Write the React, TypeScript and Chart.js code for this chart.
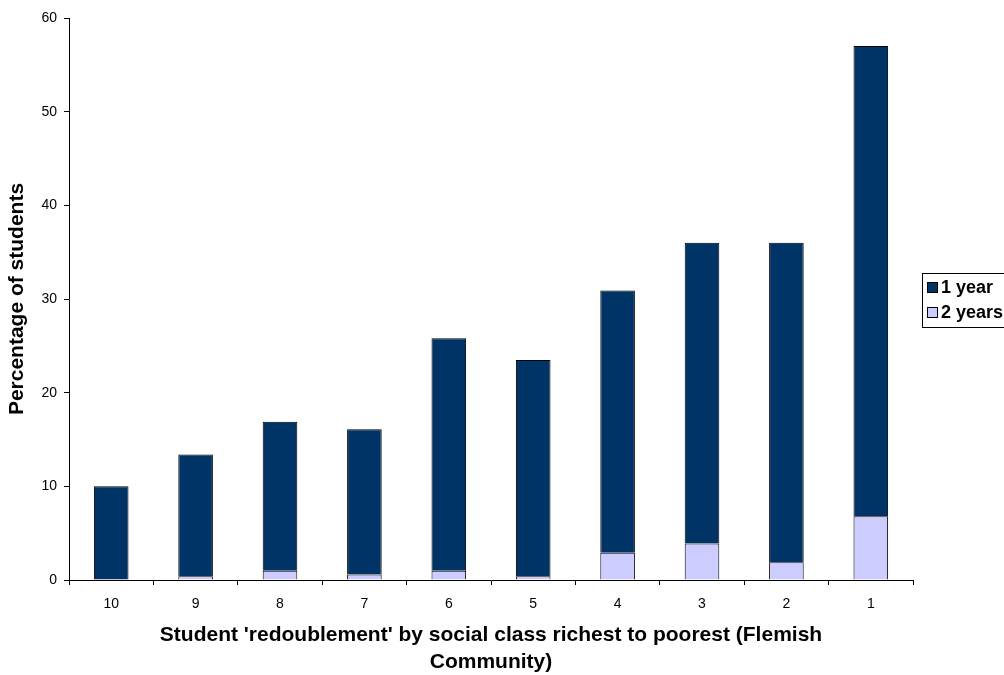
import React, { useEffect, useRef } from "react";
import { Chart, registerables } from "chart.js";

Chart.register(...registerables);

const categories = ["10", "9", "8", "7", "6", "5", "4", "3", "2", "1"];
const twoYears = [0, 0.4, 1.0, 0.6, 1.0, 0.4, 2.9, 3.9, 1.9, 6.8];
const oneYear = [10.0, 13.0, 15.9, 15.5, 24.8, 23.1, 28.0, 32.1, 34.1, 50.2];
const yTicks = [0, 10, 20, 30, 40, 50, 60];

const FONT = "'Liberation Sans', Arial, sans-serif";

const boxLegend = {
  id: "boxLegend",
  afterDraw(chart: any) {
    const ctx = chart.ctx;
    const x = 922, y = 273, w = 100, h = 54;
    ctx.save();
    ctx.fillStyle = "#ffffff";
    ctx.fillRect(x, y, w, h);
    ctx.strokeStyle = "#000000";
    ctx.lineWidth = 1;
    ctx.strokeRect(x + 0.5, y + 0.5, w, h);
    const items = [chart.data.datasets[1], chart.data.datasets[0]];
    items.forEach((ds: any, i: number) => {
      const cy = y + 14 + i * 25;
      ctx.fillStyle = ds.backgroundColor;
      ctx.fillRect(x + 5, cy - 5, 11, 11);
      ctx.strokeStyle = "#000";
      ctx.strokeRect(x + 5.5, cy - 4.5, 10, 10);
      ctx.fillStyle = "#000";
      ctx.font = `bold 18px ${FONT}`;
      ctx.textBaseline = "middle";
      ctx.textAlign = "left";
      ctx.fillText(ds.label, x + 19, cy + 1);
    });
    ctx.restore();
  },
};

export default function App() {
  const ref = useRef<HTMLCanvasElement>(null);
  useEffect(() => {
    if (!ref.current) return;
    const chart = new Chart(ref.current, {
      type: "bar",
      data: {
        labels: categories,
        datasets: [
          {
            label: "2 years",
            data: twoYears,
            backgroundColor: "#CCCCFF",
            borderColor: "#000000",
            borderWidth: 1,
            barPercentage: 0.41,
            categoryPercentage: 1,
          },
          {
            label: "1 year",
            data: oneYear,
            backgroundColor: "#003366",
            borderColor: "#000000",
            borderWidth: 1,
            barPercentage: 0.41,
            categoryPercentage: 1,
          },
        ],
      },
      options: {
        animation: false,
        responsive: false,
        maintainAspectRatio: false,
        layout: { padding: { top: 18, right: 91, left: 0, bottom: 0 } },
        plugins: {
          legend: { display: false },
          tooltip: { enabled: false },
          title: { display: false },
        },
        scales: {
          x: {
            stacked: true,
            offset: true,
            grid: {
              display: true,
              offset: true,
              drawOnChartArea: false,
              drawTicks: true,
              tickLength: 5,
              color: "#000",
            },
            border: { display: true, color: "#000", width: 1 },
            ticks: { color: "#000", font: { family: FONT, size: 14 }, padding: 11, maxRotation: 0 },
            title: {
              display: true,
              text: ["Student 'redoublement' by social class richest to poorest (Flemish", "Community)"],
              color: "#000",
              font: { family: FONT, size: 21, weight: "bold", lineHeight: 1.25 },
              padding: { top: 10, bottom: 0 },
            },
            afterFit: (s: any) => { s.height = 95; },
          },
          y: {
            stacked: true,
            min: 0,
            max: 60,
            afterBuildTicks: (s: any) => { s.ticks = yTicks.map((v) => ({ value: v })); },
            grid: {
              display: true,
              drawOnChartArea: false,
              drawTicks: true,
              tickLength: 5,
              color: "#000",
            },
            border: { display: true, color: "#000", width: 1 },
            ticks: { color: "#000", font: { family: FONT, size: 14 }, padding: 7 },
            title: {
              display: true,
              text: "Percentage of students",
              color: "#000",
              font: { family: FONT, size: 21, weight: "bold" },
              padding: { top: 5, bottom: 10 },
            },
            afterFit: (s: any) => { s.width = 69; },
          },
        },
      },
      plugins: [boxLegend],
    });
    return () => chart.destroy();
  }, []);
  return (
    <div style={{ position: "fixed", left: 0, top: 0, width: 1004, height: 675, background: "#fff" }}>
      <canvas ref={ref} width={1004} height={675} style={{ display: "block" }} />
    </div>
  );
}
